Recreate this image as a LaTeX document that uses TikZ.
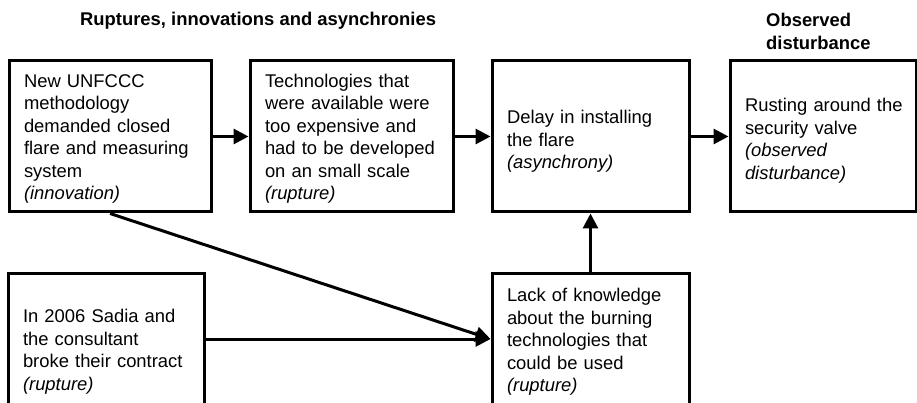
\documentclass[tikz,border=0pt]{standalone}
\usepackage{fontspec}
\setmainfont{Liberation Sans}
\usetikzlibrary{arrows.meta}
\begin{document}
\begin{tikzpicture}[x=1pt,y=-1pt,
  every node/.style={font=\fontsize{18.4}{22.5}\selectfont},
  box/.style={draw=black, line width=3pt, rectangle, align=left,
    inner xsep=15pt, inner ysep=0pt},
  % raises the first line's height so the text block sits a little lower
  drop/.style={execute at begin node={\rule{0pt}{#1}}},
  heading/.style={font=\fontsize{18.4}{22.5}\selectfont\bfseries, inner sep=0pt, align=left},
  link/.style={line width=3pt, -{Triangle[length=15pt,width=15pt]}}]
  \path[use as bounding box, clip] (0,0) rectangle (917,403);

  % column headings
  \node[heading, anchor=base west] (hA) at (80,26) {Ruptures, innovations and asynchronies};
  \node[heading, anchor=north west] (hB) at (766,13) {Observed\\disturbance};

  % upper row
  \node[box, drop=17.4pt, minimum width=202pt, minimum height=151pt, text width=172pt] (b1) at (110,136.5)
    {New UNFCCC\\methodology\\demanded closed\\flare and measuring\\system\\\textit{(innovation)}};
  \node[box, drop=17.4pt, minimum width=203pt, minimum height=151pt, text width=173pt] (b2) at (351.5,136.5)
    {Technologies that\\were available were\\too expensive and\\had to be developed\\on an small scale\\\textit{(rupture)}};
  \node[box, drop=23.4pt, minimum width=197pt, minimum height=151pt, text width=167pt] (b3) at (590.5,136.5)
    {Delay in installing\\the flare\\\textit{(asynchrony)}};
  \node[box, drop=21.4pt, minimum width=186pt, minimum height=151pt, text width=156pt] (b4) at (823,136.5)
    {Rusting~around~the\\security valve\\\textit{(observed}\\\textit{disturbance)}};

  % lower row
  \node[box, drop=21.4pt, minimum width=196pt, minimum height=149pt, text width=166pt] (b5) at (106,347.5)
    {In 2006 Sadia and\\the consultant\\broke their contract\\\textit{(rupture)}};
  \node[box, drop=19.4pt, minimum width=197pt, minimum height=132pt, text width=167pt] (b6) at (590.5,339)
    {Lack of knowledge\\about the burning\\technologies that\\could be used\\\textit{(rupture)}};

  % connectors
  \draw[link] (b1) -- (b2);
  \draw[link] (b2) -- (b3);
  \draw[link] (b3) -- (b4);
  \draw[link] (b6) -- (b3);
  \draw[link] (b1.south) -- (b6.west);
  \draw[link] (b5.east |- b6.west) -- (b6.west);
\end{tikzpicture}
\end{document}
